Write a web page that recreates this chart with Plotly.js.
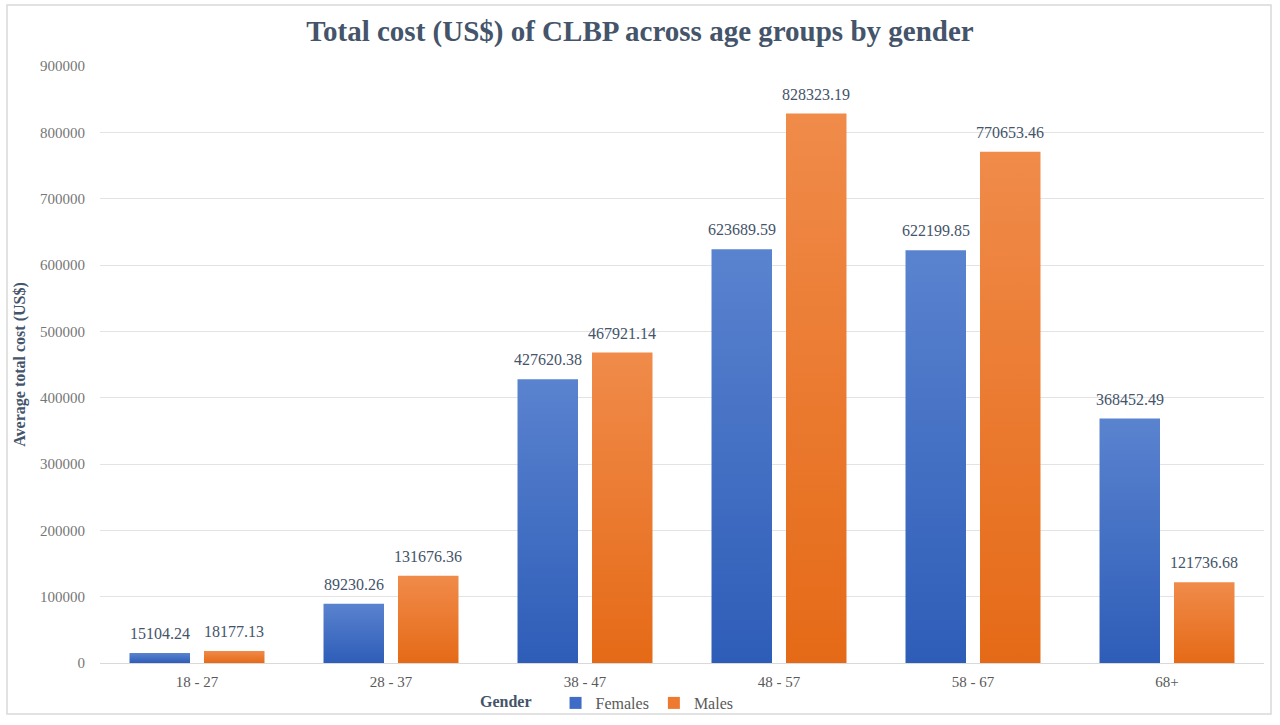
<!DOCTYPE html>
<html>
<head>
<meta charset="utf-8">
<script src="https://cdn.plot.ly/plotly-3.0.1.min.js"></script>
<style>
html,body{margin:0;padding:0;background:#fff;}
#chart{width:1280px;height:725px;}
</style>
</head>
<body>
<div id="chart"></div>
<script>
const ageGroups = ["18 - 27", "28 - 37", "38 - 47", "48 - 57", "58 - 67", "68+"];
const females = [15104.24, 89230.26, 427620.38, 623689.59, 622199.85, 368452.49];
const males = [18177.13, 131676.36, 467921.14, 828323.19, 770653.46, 121736.68];
const yTicks = [0, 100000, 200000, 300000, 400000, 500000, 600000, 700000, 800000, 900000];

const serif = "'Liberation Serif', 'Times New Roman', serif";
const fmt = v => v.toFixed(2);

const BARGAP = 0.232, GROUPGAP = 0.188;
const L = 100, R = 16, T = 66, B = 62, W = 1280, H = 725;
const pw = W - L - R, ph = H - T - B;
const px = x => (x - L) / pw;
const py = y => (H - B - y) / ph;

const traces = [
  {type: "bar", name: "Females", x: ageGroups, y: females,
   marker: {color: "#3F6CC6"}, hoverinfo: "x+y"},
  {type: "bar", name: "Males", x: ageGroups, y: males,
   marker: {color: "#ED7A2E"}, hoverinfo: "x+y"}
];

// value labels placed above each bar (offset = half a bar slot within the group)
const slotW = (pw / ageGroups.length) * (1 - BARGAP) / 2;
const labelFont = {family: serif, size: 16, color: "#44546A"};
const annotations = [];
[females, males].forEach((series, s) => {
  series.forEach((v, i) => {
    annotations.push({
      x: ageGroups[i], y: v, xref: "x", yref: "y",
      text: fmt(v), showarrow: false,
      xanchor: "center", yanchor: "bottom",
      xshift: (s === 0 ? -1 : 1) * slotW / 2, yshift: 9,
      font: labelFont
    });
  });
});

const layout = {
  width: W, height: H,
  margin: {l: L, r: R, t: T, b: B, autoexpand: false},
  paper_bgcolor: "#ffffff", plot_bgcolor: "#ffffff",
  font: {family: serif, color: "#595959"},
  title: {
    text: "<b>Total cost (US$) of CLBP across age groups by gender</b>",
    font: {family: serif, size: 29, color: "#44546A"},
    x: 0.5, xanchor: "center", y: 1 - 31 / H, yanchor: "middle"
  },
  barmode: "group", bargap: BARGAP, bargroupgap: GROUPGAP,
  xaxis: {
    type: "category", showgrid: false, zeroline: false,
    showline: false, ticks: "", ticklabelstandoff: 8,
    tickfont: {family: serif, size: 15, color: "#595959"}
  },
  yaxis: {
    range: [0, 900000], tickvals: yTicks, ticktext: yTicks.map(String),
    showgrid: true, gridcolor: "#E3E3E3", gridwidth: 1,
    zeroline: true, zerolinecolor: "#D9D9D9", zerolinewidth: 1,
    showline: false, ticks: "", ticklen: 0, ticklabelstandoff: 14,
    tickfont: {family: serif, size: 15, color: "#767676"},
    title: {
      text: "<b>Average total cost (US$)</b>",
      font: {family: serif, size: 16, color: "#44546A"},
      standoff: 10
    }
  },
  annotations: annotations,
  showlegend: true,
  legend: {
    orientation: "h", xanchor: "left", x: px(478), y: py(703), yanchor: "middle",
    title: {text: "<b>Gender</b>&nbsp;&nbsp;&nbsp;&nbsp;", side: "left", font: {family: serif, size: 16, color: "#44546A"}},
    font: {family: serif, size: 16, color: "#595959"},
    itemwidth: 30, bgcolor: "rgba(0,0,0,0)", traceorder: "normal"
  },
  shapes: [{
    type: "rect", xref: "paper", yref: "paper",
    x0: px(7), x1: px(1271), y0: py(714), y1: py(5),
    line: {color: "#D9D9D9", width: 1.5}, fillcolor: "rgba(0,0,0,0)", layer: "below"
  }]
};

Plotly.newPlot("chart", traces, layout, {displayModeBar: false, staticPlot: true}).then(gd => {
  const svg = gd.querySelector("svg.main-svg");
  const ns = "http://www.w3.org/2000/svg";
  let defs = svg.querySelector("defs");
  if (!defs) { defs = document.createElementNS(ns, "defs"); svg.insertBefore(defs, svg.firstChild); }
  const mk = (id, top, bot) => {
    const g = document.createElementNS(ns, "linearGradient");
    g.setAttribute("id", id);
    g.setAttribute("x1", "0"); g.setAttribute("y1", "0");
    g.setAttribute("x2", "0"); g.setAttribute("y2", "1");
    [[0, top], [1, bot]].forEach(([o, c]) => {
      const s = document.createElementNS(ns, "stop");
      s.setAttribute("offset", o); s.setAttribute("stop-color", c);
      g.appendChild(s);
    });
    defs.appendChild(g);
  };
  mk("gradF", "#5A83CF", "#2E5DB8");
  mk("gradM", "#F08B4A", "#E56A17");
  const groups = gd.querySelectorAll(".barlayer .trace");
  const ids = ["gradF", "gradM"];
  groups.forEach((tr, i) => {
    tr.querySelectorAll(".point path").forEach(p => {
      p.style.fill = "url(#" + ids[i] + ")";
    });
  });
});
</script>
</body>
</html>
